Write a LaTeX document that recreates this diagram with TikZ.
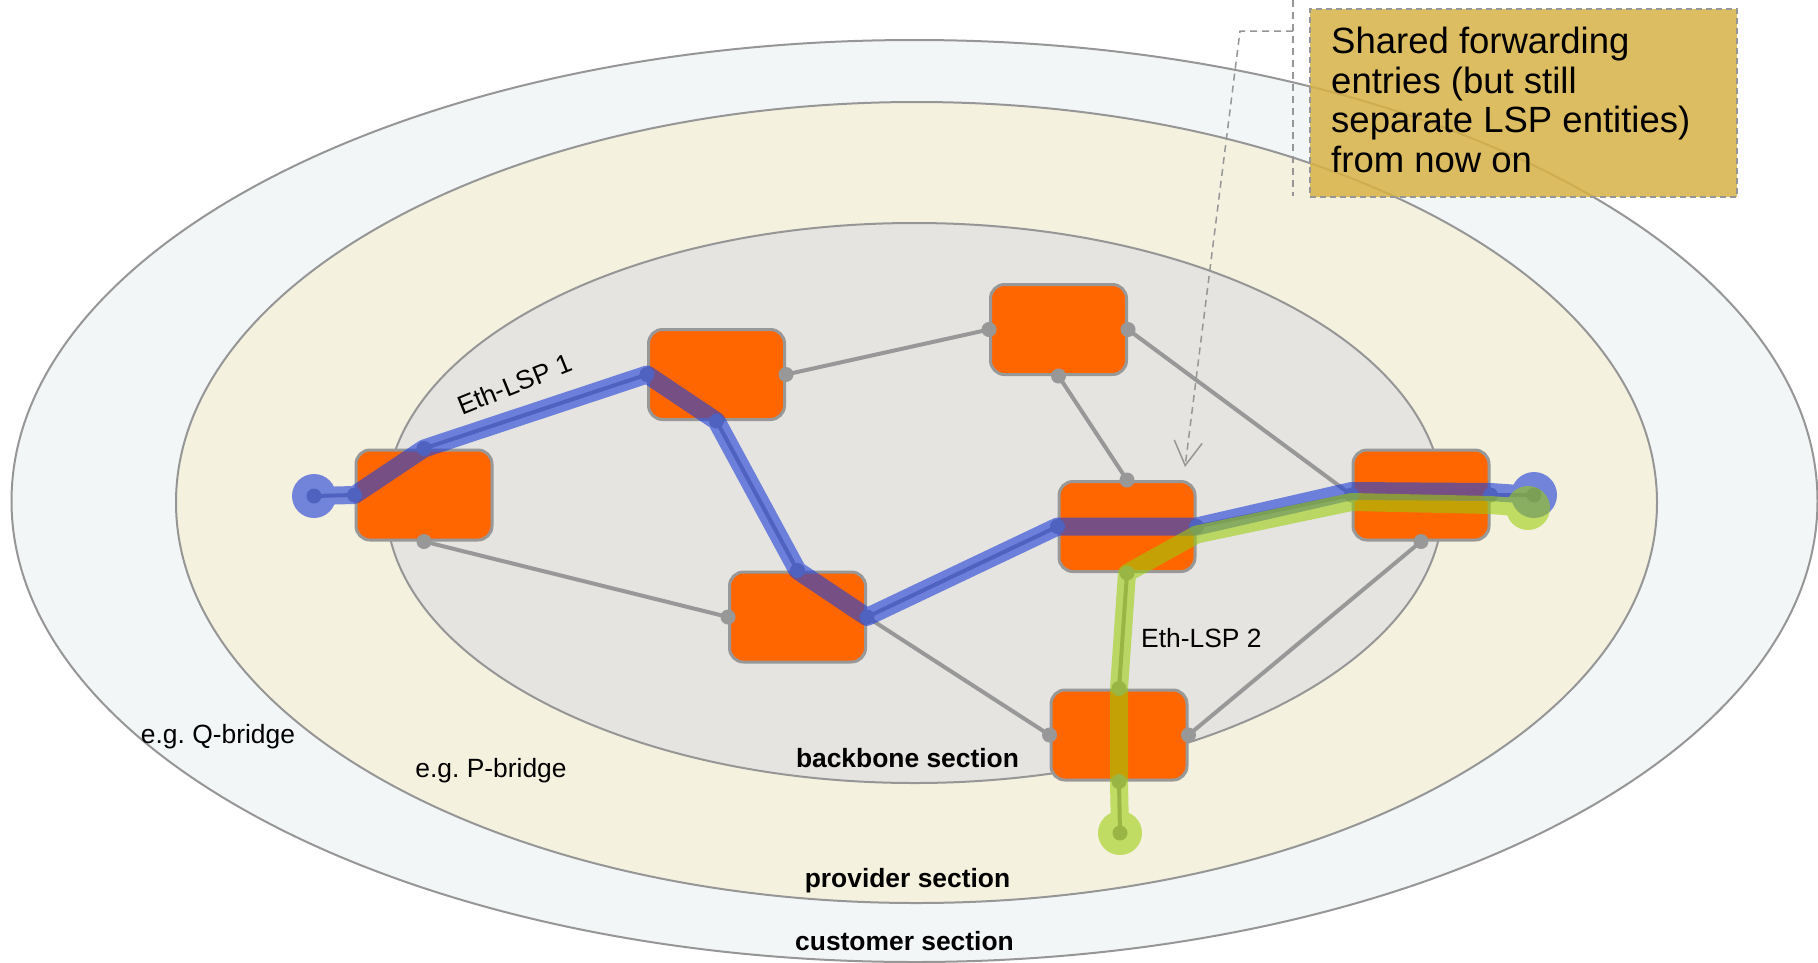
\documentclass[tikz,border=0pt]{standalone}
\usepackage{fontspec}
\setmainfont{Liberation Sans}
\usetikzlibrary{arrows.meta,calc}
\definecolor{custfill}{RGB}{243,246,247}
\definecolor{provfill}{RGB}{244,241,223}
\definecolor{bbfill}{RGB}{229,228,224}
\definecolor{ringline}{RGB}{150,150,150}
\definecolor{bridgeorange}{RGB}{255,102,0}
\definecolor{portgray}{RGB}{152,152,152}
\definecolor{lspblue}{RGB}{35,65,215}
\definecolor{lspgreen}{RGB}{155,205,10}
\definecolor{notefill}{RGB}{216,178,70}
\frenchspacing
\begin{document}
\begin{tikzpicture}[x=1pt,y=-1pt,
  ring/.style={draw=ringline,line width=2pt},
  bridge/.style={draw=portgray,line width=3pt,fill=bridgeorange,rounded corners=14pt,
    minimum width=136pt,minimum height=90pt,inner sep=0pt},
  link/.style={draw=portgray,line width=4pt},
  port/.style={fill=portgray},
  lspband/.style={draw=#1,line width=18pt,line join=round,line cap=round},
  lbl/.style={font=\fontsize{26.4}{30}\selectfont,inner sep=0pt},
  sect/.style={font=\fontsize{26.4}{30}\selectfont\bfseries,inner sep=0pt,anchor=base},
  calloutline/.style={draw=ringline,line width=1.5pt,dash pattern=on 7pt off 5pt},
]
\useasboundingbox[fill=white] (0,0) rectangle (1818,962);

% sections
\filldraw[ring,fill=custfill] (914.5,501) ellipse (903 and 461);
\filldraw[ring,fill=provfill] (916.5,502.5) ellipse (740.5 and 400.5);
\filldraw[ring,fill=bbfill] (914.5,503) ellipse (528.5 and 280);

% bridges
\node[bridge] (n1) at (424,495) {};
\node[bridge] (n2) at (716.5,374.5) {};
\node[bridge] (n3) at (1058.5,329.5) {};
\node[bridge] (n4) at (797.5,617) {};
\node[bridge] (n5) at (1127,526.5) {};
\node[bridge] (n6) at (1421,495) {};
\node[bridge] (n7) at (1119,735) {};

% end points
\coordinate (e1) at (314,496);
\coordinate (e6) at (1534,495);
\coordinate (e6g) at (1528,508);
\coordinate (e7) at (1120,833);

% links
\draw[link] (e1) -- (n1.west);
\draw[link] (n1.north) -- (n2.west);
\draw[link] (n2.south) -- (n4.north);
\draw[link] (n4.east) -- (n5.west);
\draw[link] (n5.east) -- (n6.west);
\draw[link] (n6.east) -- (e6);
\draw[link] (n5.south) -- (n7.north);
\draw[link] (n7.south) -- (e7);
\draw[link] (n2.east) -- (n3.west);
\draw[link] (n3.south) -- (n5.north);
\draw[link] (n3.east) -- (n6.west);
\draw[link] (n1.south) -- (n4.west);
\draw[link] (n4.east) -- (n7.west);
\draw[link] (n6.south) -- (n7.east);

% ports
\foreach \p in {n1.west,n1.north,n1.south,n2.west,n2.east,n2.south,
  n3.west,n3.east,n3.south,n4.west,n4.north,n4.east,
  n5.west,n5.north,n5.east,n5.south,n6.west,n6.east,n6.south,
  n7.west,n7.north,n7.east,n7.south,e1,e6,e7}
  \fill[port] (\p) circle (7.5);

% Eth-LSP 1
\begin{scope}[transparency group,opacity=0.62]
\draw[lspband=lspblue] (e1) -- (n1.west) -- (n1.north) -- (n2.west) -- (n2.south)
  -- (n4.north) -- (n4.east) -- (n5.west) -- (n5.east)
  -- ($(n6.west)+(0,-4)$) -- ($(n6.east)+(0,-3)$) -- (e6);
\fill[lspblue] (e1) circle (22);
\fill[lspblue] (e6) circle (23);
\end{scope}

% Eth-LSP 2
\begin{scope}[transparency group,opacity=0.58]
\draw[lspband=lspgreen] (e7) -- (n7.south) -- (n7.north) -- (n5.south)
  -- ($(n5.east)+(0,8)$) -- ($(n6.west)+(0,7)$) -- ($(n6.east)+(0,10)$) -- (e6g);
\fill[lspgreen] (e6g) circle (22);
\fill[lspgreen] (e7) circle (22);
\end{scope}

% labels
\node[lbl,anchor=base,rotate=22] (lsp1) at (518,393) {Eth-LSP 1};
\node[lbl,anchor=base west] (lsp2) at (1141,647) {Eth-LSP 2};
\node[lbl,anchor=base] (qb) at (218,743) {e.g. Q-bridge};
\node[lbl,anchor=base] (pb) at (491,777) {e.g. P-bridge};
\node[sect] (bbs) at (907.5,767) {backbone section};
\node[sect] (prs) at (907.5,887) {provider section};
\node[sect] (cus) at (904.5,950) {customer section};

% callout
\node[draw=ringline,line width=1.5pt,dash pattern=on 6pt off 4pt,fill=notefill,fill opacity=0.85,
  anchor=north west,inner sep=0pt,minimum width=427pt,minimum height=188pt] (notebox) at (1309,8) {};
\node[anchor=base west,align=left,inner sep=0pt,font=\fontsize{36.5}{39.5}\selectfont] (notetext) at (1331,172)
  {Shared forwarding\\entries (but still\\separate LSP entities)\\from now on};
\coordinate (btop) at (1293,0);
\coordinate (bbot) at (1293,196);
\coordinate (cjoin) at (1293,31);
\coordinate (cknee) at (1240,31);
\coordinate (ctip) at (1185,467);
\draw[calloutline] (btop) -- (bbot);
\draw[calloutline,-{Straight Barb[length=24pt,width=28pt,line width=1.5pt]}] (cjoin) -- (cknee) -- (ctip);
\end{tikzpicture}
\end{document}
